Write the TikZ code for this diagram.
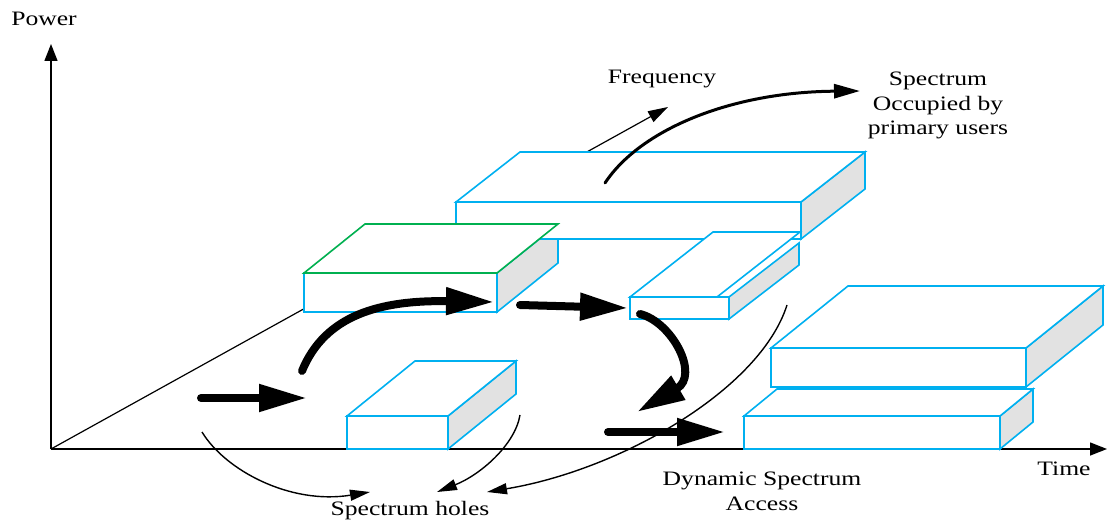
\documentclass[tikz,border=0pt]{standalone}
\usepackage{fontspec}
\setmainfont{Liberation Serif}[FakeStretch=1.25]
\usetikzlibrary{arrows.meta}

\definecolor{slabblue}{RGB}{0,176,240}
\definecolor{slabgreen}{RGB}{0,176,80}
\definecolor{slabside}{RGB}{226,226,226}

\tikzset{
  axisline/.style={line width=1.4pt, -{Triangle[length=17pt,width=13pt]}},
  freqline/.style={line width=1.2pt, -{Triangle[length=20pt,width=12pt]}},
  edgeline/.style={line width=1.6pt, draw=slabblue, line join=miter},
  sideface/.style={edgeline, fill=slabside},
  whiteface/.style={edgeline, fill=white},
  bigarrow/.style={line width=8pt, line cap=round, -{Triangle[length=48pt,width=26pt]}},
  midarrow/.style={line width=3pt, line cap=round, -{Triangle[length=26pt,width=14pt]}},
  thinarrow/.style={line width=1.4pt, -{Triangle[length=20pt,width=11pt]}},
  lbl/.style={inner sep=0pt, font=\fontsize{20.5}{24.5}\selectfont},
}

% Slab faces: front top-left corner (#1,#2), width #3, height #4,
% depth offset #5 to the right and #6 upwards.
\newcommand\slabsideface[6]{%
  \draw[sideface] (#1+#3,#2) -- ++(#5,-#6) -- ++(0,#4) -- ++(-#5,#6) -- cycle;}
\newcommand\slabfrontface[4]{%
  \draw[whiteface] (#1,#2) rectangle ++(#3,#4);}
\newcommand\slabtopface[7]{%
  \draw[whiteface,#7] (#1,#2) -- ++(#5,-#6) -- ++(#3,0) -- ++(-#5,#6) -- cycle;}
\newcommand\slab[6]{%
  \slabsideface{#1}{#2}{#3}{#4}{#5}{#6}%
  \slabfrontface{#1}{#2}{#3}{#4}%
  \slabtopface{#1}{#2}{#3}{#4}{#5}{#6}{}}

\begin{document}
\begin{tikzpicture}[x=1pt, y=-1pt]
  \useasboundingbox (0,0) rectangle (1108,521);

  % axes
  \coordinate (O) at (51,449);
  \coordinate (powertip) at (51,44);
  \coordinate (timetip) at (1107,449);
  \coordinate (freqtip) at (668,107);
  \draw[axisline] (O) -- (powertip);
  \draw[axisline] (O) -- (timetip);
  \draw[freqline] (O) -- (freqtip);

  % occupied slabs
  \slabsideface{304}{273}{193}{39}{61}{49}
  \slab{456}{202}{345}{37}{64}{50}
  \slabfrontface{304}{273}{193}{39}
  \slabtopface{304}{273}{193}{39}{61}{49}{draw=slabgreen}

  \slabsideface{630}{297}{99}{22}{70}{54}
  \slabfrontface{630}{297}{99}{22}
  \slabtopface{630}{297}{87}{22}{83}{65}{}

  \slab{347}{416}{101}{33}{68}{55}
  \slab{744}{416}{256}{33}{33}{27}
  \slab{771}{348}{255}{39}{77}{62}

  % path of the secondary user
  \coordinate (a1s) at (201,398);  \coordinate (a1e) at (307,398);
  \coordinate (a2s) at (302,371);  \coordinate (a2e) at (494,302);
  \coordinate (a3s) at (520,305);  \coordinate (a3e) at (628,308);
  \coordinate (a4s) at (640,314);  \coordinate (a4e) at (637,412);
  \coordinate (a5s) at (608,432);  \coordinate (a5e) at (725,432);
  \draw[bigarrow] (a1s) -- (a1e);
  \draw[bigarrow] (a2s) .. controls (325,315) and (380,300) .. (a2e);
  \draw[bigarrow] (a3s) -- (a3e);
  \draw[bigarrow] (a4s) .. controls (672,322) and (700,375) .. (a4e);
  \draw[bigarrow] (a5s) -- (a5e);

  % labels
  \node[lbl, anchor=base] (power) at (44,26) {Power};
  \node[lbl, anchor=base] (freq) at (662,84) {Frequency};
  \node[lbl, anchor=north, align=center] (occ) at (938,72) {Spectrum\\Occupied by\\primary users};
  \node[lbl, anchor=base] (time) at (1064,475) {Time};
  \node[lbl, anchor=base] (holes) at (410,515) {Spectrum holes};
  \node[lbl, anchor=north, align=center] (dsa) at (762,472) {Dynamic Spectrum\\Access};

  % pointers to the labels
  \coordinate (occs) at (605,183);   \coordinate (occe) at (860,91);
  \draw[midarrow] (occs) .. controls (640,130) and (730,92) .. (occe);

  \coordinate (h1s) at (202,432);  \coordinate (h1e) at (370,492);
  \coordinate (h2s) at (520,415);  \coordinate (h2e) at (437,492);
  \coordinate (h3s) at (787,305);  \coordinate (h3e) at (487,492);
  \draw[thinarrow] (h1s) .. controls (225,470) and (290,505) .. (h1e);
  \draw[thinarrow] (h2s) .. controls (515,445) and (480,475) .. (h2e);
  \draw[thinarrow] (h3s) .. controls (760,390) and (620,470) .. (h3e);
\end{tikzpicture}
\end{document}
